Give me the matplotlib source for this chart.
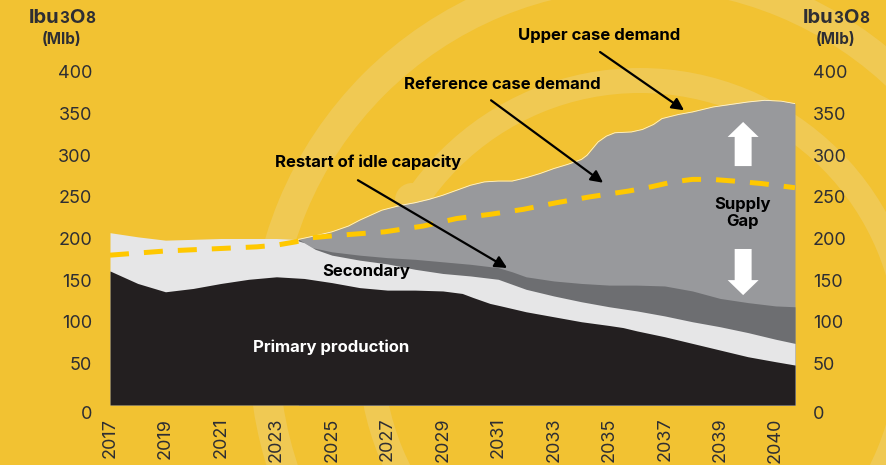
import matplotlib
matplotlib.use("Agg")
import matplotlib.pyplot as plt
from matplotlib.patches import Wedge, Circle
from matplotlib.offsetbox import TextArea, HPacker, AnnotationBbox
from matplotlib.transforms import ScaledTranslation

plt.rcParams['font.family'] = ['Inter', 'DejaVu Sans']

# ---- data ----
primary_years = [2017, 2018, 2019, 2020, 2021, 2022, 2023, 2024, 2025, 2026, 2027, 2028,
                 2029, 2029.7, 2030.1, 2030.7, 2031.1, 2032, 2033, 2034, 2035, 2035.5,
                 2036, 2037, 2038, 2039, 2040, 2041, 2041.7]
primary = [161, 146, 136, 140, 146, 151, 154, 152, 147, 141, 138, 138,
           137, 134, 129, 122, 119, 112, 106, 100, 95.5, 93,
           89, 82, 74, 66, 58, 52, 48]

secondary_years = [2017, 2018, 2019, 2020, 2021, 2022, 2023, 2023.6, 2024.0, 2024.4, 2025,
                   2026, 2027, 2028, 2029, 2030, 2031, 2032, 2033, 2034, 2035, 2036,
                   2037, 2038, 2039, 2040, 2041, 2041.7]
secondary_top = [207, 202, 198, 199, 200, 200, 200, 199, 195, 187, 180,
                 174, 169.5, 163, 158, 155, 151, 139, 131, 124, 118, 113,
                 107, 100, 94, 87, 79, 74]

restart_years = [2023.8, 2024.3, 2025, 2026, 2027, 2028, 2029, 2030, 2030.5, 2031, 2031.5,
                 2032, 2033, 2034, 2035, 2036, 2037, 2038, 2039, 2040, 2041, 2041.7]
restart_top = [199, 189, 184, 180, 177, 175, 172, 169, 167, 165, 160,
               154, 149, 146, 144, 144, 143, 137, 128, 123, 119, 118]

upper_years = [2023.8, 2024.5, 2025, 2025.6, 2026, 2026.8, 2027.5, 2028, 2028.5, 2029,
               2029.5, 2030, 2030.5, 2031, 2031.5, 2032, 2032.5, 2033, 2033.5, 2034,
               2034.2, 2034.4, 2034.6, 2034.9, 2035.2, 2035.8, 2036.2, 2036.6, 2036.9,
               2037.5, 2038, 2038.75, 2040, 2040.6, 2041.2, 2041.7]
upper_demand = [199, 204, 208, 215, 222, 234, 240, 243, 247, 252,
                258, 264, 268, 269, 269, 273, 278, 284, 289, 295,
                300, 308, 316, 323, 327, 328, 331, 337, 344,
                349, 352, 358, 364, 366, 365, 362]

reference_years = [2017, 2019, 2021, 2022.3, 2023, 2023.7, 2024.3, 2025.3, 2026.9, 2028.3,
                   2029.5, 2030.7, 2031.9, 2033.1, 2034.3, 2035.7, 2036.5, 2037.3, 2038,
                   2038.7, 2039.5, 2040.5, 2041.7]
reference_demand = [180, 185, 188, 190, 192, 196, 201, 204, 208, 215,
                    224, 229, 235, 243, 250, 257, 262, 268, 271,
                    271, 269, 266, 261]

tick_years = [2017, 2019, 2021, 2023, 2025, 2027, 2029, 2031, 2033, 2035, 2037, 2039, 2041]
tick_labels = ['2017', '2019', '2021', '2023', '2025', '2027', '2029', '2031', '2033',
               '2035', '2037', '2039', '2040']
y_ticks = [0, 50, 100, 150, 200, 250, 300, 350, 400]

# ---- colours ----
BG = '#F2C232'
WATER = '#F0C953'
BLACK = '#231F20'
LIGHT = '#E6E6E7'
DARK = '#6D6E71'
MID = '#98999C'
DASH = '#FFC800'
TXT = '#2E2E33'

W, H = 887, 465
fig = plt.figure(figsize=(W / 100, H / 100), dpi=100, facecolor=BG)

# background watermark rings (pixel coords)
bg = fig.add_axes([0, 0, 1, 1], zorder=0)
bg.set_xlim(0, W)
bg.set_ylim(H, 0)
bg.axis('off')
bg.add_patch(Wedge((640, 350), 391, 0, 360, width=30, color=WATER, lw=0))
bg.add_patch(Wedge((640, 350), 282, 0, 360, width=25, color=WATER, lw=0))
bg.add_patch(Circle((412, 200), 17, color=WATER, lw=0))

ax = fig.add_axes([110 / W, (H - 405) / H, 685 / W, 333 / H], zorder=1)
ax.patch.set_alpha(0)
ax.set_xlim(2017, 2041.7)
ax.set_ylim(0, 400)

ax.fill_between(upper_years, 0, upper_demand, color=MID, lw=0)
ax.plot(upper_years, upper_demand, color='white', lw=0.6, alpha=0.8)
ax.fill_between(restart_years, 0, restart_top, color=DARK, lw=0)
ax.fill_between(secondary_years, 0, secondary_top, color=LIGHT, lw=0)
ax.fill_between(primary_years, 0, primary, color=BLACK, lw=0)
ax.plot(reference_years, reference_demand, color=DASH, lw=3.6,
        dashes=(3.8, 3.0), solid_capstyle='butt', dash_capstyle='butt', zorder=5)

for s in ax.spines.values():
    s.set_visible(False)
ax.set_xticks(tick_years)
ax.set_xticklabels(tick_labels, rotation=90, va='top')
ax.set_yticks(y_ticks)
ax.tick_params(axis='x', length=0, pad=9, labelsize=13, labelcolor=TXT)
ax.tick_params(axis='y', length=0, pad=13, labelsize=13, labelcolor=TXT,
               left=True, right=True, labelleft=True, labelright=True)

# the "0" labels sit a little lower than their tick
zero_tick = ax.yaxis.get_major_ticks()[0]
for zl in (zero_tick.label1, zero_tick.label2):
    zl.set_transform(zl.get_transform() + ScaledTranslation(0, -7 / 100, fig.dpi_scale_trans))

# ---- unit titles ----
def unit_title(xp):
    parts = [TextArea('lbu', textprops=dict(size=14.5, weight='bold', color=TXT)),
             TextArea('3', textprops=dict(size=11, weight='bold', color=TXT)),
             TextArea('O', textprops=dict(size=14.5, weight='bold', color=TXT)),
             TextArea('8', textprops=dict(size=11, weight='bold', color=TXT))]
    box = HPacker(children=parts, align='baseline', pad=0, sep=0)
    fig.add_artist(AnnotationBbox(box, (xp, H - 18), xycoords='figure pixels',
                                  frameon=False, box_alignment=(0.5, 0.5), zorder=3))
    fig.text(xp / W, 1 - 39 / H, '(Mlb)', ha='center', va='center',
             fontsize=11, weight='bold', color=TXT, zorder=3)

unit_title(62)
unit_title(836)

# ---- annotations ----
lab = dict(ha='center', va='center', fontsize=12, weight='bold', color='black', zorder=6)
ax.text(2034.63, 444.4, 'Upper case demand', **lab)
ax.text(2031.14, 384.4, 'Reference case demand', **lab)
ax.text(2026.30, 291.9, 'Restart of idle capacity', **lab)
ax.text(2026.23, 159.8, 'Secondary', **lab)
ax.text(2024.97, 69.7, 'Primary production', ha='center', va='center',
        fontsize=12, weight='bold', color='white', zorder=6)
ax.text(2039.79, 230.6, 'Supply\nGap', linespacing=1.2, **lab)

arrow = dict(arrowstyle='-|>', color='black', lw=1.6, mutation_scale=18,
             shrinkA=0, shrinkB=0)
ax.annotate('', xy=(2037.70, 354), xytext=(2034.67, 424), arrowprops=arrow, zorder=6)
ax.annotate('', xy=(2034.78, 267), xytext=(2030.74, 366), arrowprops=arrow, zorder=6)
ax.annotate('', xy=(2031.32, 164.6), xytext=(2025.94, 270), arrowprops=arrow, zorder=6)

block = dict(arrowstyle='simple,head_length=10.8,head_width=22.3,tail_width=12.2',
             color='white', lw=0, mutation_scale=1, shrinkA=0, shrinkB=0)
ax.annotate('', xy=(2039.83, 340), xytext=(2039.83, 287), arrowprops=block, zorder=6)
ax.annotate('', xy=(2039.83, 132), xytext=(2039.83, 187.4), arrowprops=block, zorder=6)

fig.savefig('out.png', dpi=100, facecolor=BG)
